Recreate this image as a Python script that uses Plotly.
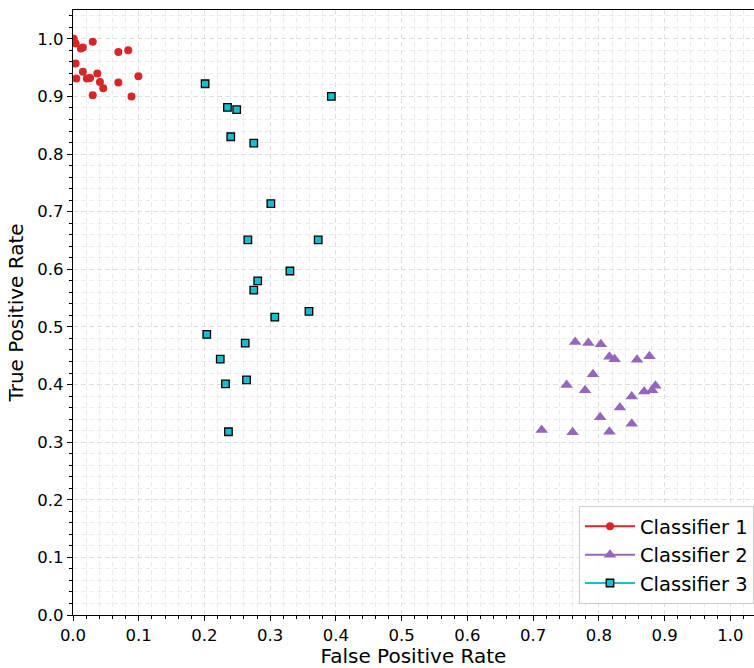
import plotly.graph_objects as go

# Classifier 1 (red circles)
c1_fpr = [0.001, 0.004, 0.012, 0.015, 0.030, 0.069, 0.084, 0.004, 0.015, 0.037,
          0.005, 0.021, 0.026, 0.041, 0.046, 0.069, 0.0995, 0.030, 0.089]
c1_tpr = [1.000, 0.992, 0.983, 0.985, 0.995, 0.977, 0.980, 0.957, 0.943, 0.940,
          0.931, 0.931, 0.932, 0.925, 0.914, 0.924, 0.935, 0.902, 0.900]

# Classifier 2 (purple triangles)
c2_fpr = [0.764, 0.784, 0.803, 0.816, 0.824, 0.858, 0.877, 0.791, 0.751, 0.779,
          0.850, 0.869, 0.881, 0.886, 0.832, 0.802, 0.850, 0.713, 0.760, 0.816]
c2_tpr = [0.474, 0.472, 0.470, 0.448, 0.444, 0.443, 0.449, 0.418, 0.399, 0.390,
          0.379, 0.388, 0.390, 0.398, 0.360, 0.343, 0.332, 0.321, 0.317, 0.318]

# Classifier 3 (cyan squares)
c3_fpr = [0.201, 0.393, 0.235, 0.249, 0.240, 0.275, 0.301, 0.266, 0.373, 0.330,
          0.281, 0.275, 0.359, 0.307, 0.2035, 0.262, 0.224, 0.264, 0.232, 0.2365]
c3_tpr = [0.922, 0.900, 0.881, 0.877, 0.830, 0.819, 0.714, 0.651, 0.651, 0.597,
          0.580, 0.564, 0.527, 0.517, 0.487, 0.472, 0.444, 0.408, 0.401, 0.318]

names = ["Classifier 1", "Classifier 2", "Classifier 3"]
colors = ["#d62728", "#9467bd", "#17becf"]
symbols = ["circle", "triangle-up", "square"]
sizes = [8, 11, 7.5]
edge_w = [0, 0, 1.3]

FONT = "DejaVu Sans"
fig = go.Figure()

series = [(c1_fpr, c1_tpr), (c2_fpr, c2_tpr), (c3_fpr, c3_tpr)]
for (xs, ys), nm, col, sym, sz, ew in zip(series, names, colors, symbols, sizes, edge_w):
    fig.add_trace(go.Scatter(
        x=xs, y=ys, mode="markers", name=nm, showlegend=False,
        marker=dict(color=col, symbol=sym, size=sz,
                    line=dict(color="black", width=ew)),
    ))

# legend entries (line + marker)
for nm, col, sym, sz, ew in zip(names, colors, symbols, sizes, edge_w):
    fig.add_trace(go.Scatter(
        x=[None], y=[None], mode="lines+markers", name=nm,
        line=dict(color=col, width=2),
        marker=dict(color=col, symbol=sym, size=sz,
                    line=dict(color="black", width=ew)),
    ))

grid_major = "#dedede"
grid_minor = "#ebebeb"
axis_common = dict(
    showline=True, linecolor="black", linewidth=1.3,
    ticks="outside", ticklen=5, tickwidth=1.2, tickcolor="black",
    showgrid=True, gridcolor=grid_major, griddash="5px,3px", gridwidth=1,
    zeroline=False, dtick=0.1, tick0=0, tickformat=".1f",
    tickfont=dict(family=FONT, size=16.5, color="black"),
    minor=dict(dtick=0.02, tick0=0, ticks="outside", ticklen=3,
               tickcolor="black", tickwidth=1, showgrid=True,
               gridcolor=grid_minor, griddash="5px,3px", gridwidth=1),
)

fig.update_layout(
    width=754, height=668,
    margin=dict(l=73, r=0, t=10, b=53),
    plot_bgcolor="white", paper_bgcolor="white",
    font=dict(family=FONT, color="black"),
    xaxis=dict(range=[0, 1.036], mirror=True,
               title=dict(text="False Positive Rate",
                          font=dict(family=FONT, size=20), standoff=10),
               **axis_common),
    yaxis=dict(range=[0, 1.05],
               title=dict(text="True Positive Rate",
                          font=dict(family=FONT, size=20), standoff=8),
               **axis_common),
    legend=dict(x=1, xanchor="right", y=0.018, yanchor="bottom",
                bgcolor="rgba(255,255,255,0.85)", bordercolor="#cccccc",
                borderwidth=1, font=dict(family=FONT, size=19.5),
                itemwidth=50, tracegroupgap=0),
)

fig.write_html(
    "out.html",
    config={"displayModeBar": False},
    post_script="document.body.style.margin='0';document.body.style.overflow='hidden';",
)
